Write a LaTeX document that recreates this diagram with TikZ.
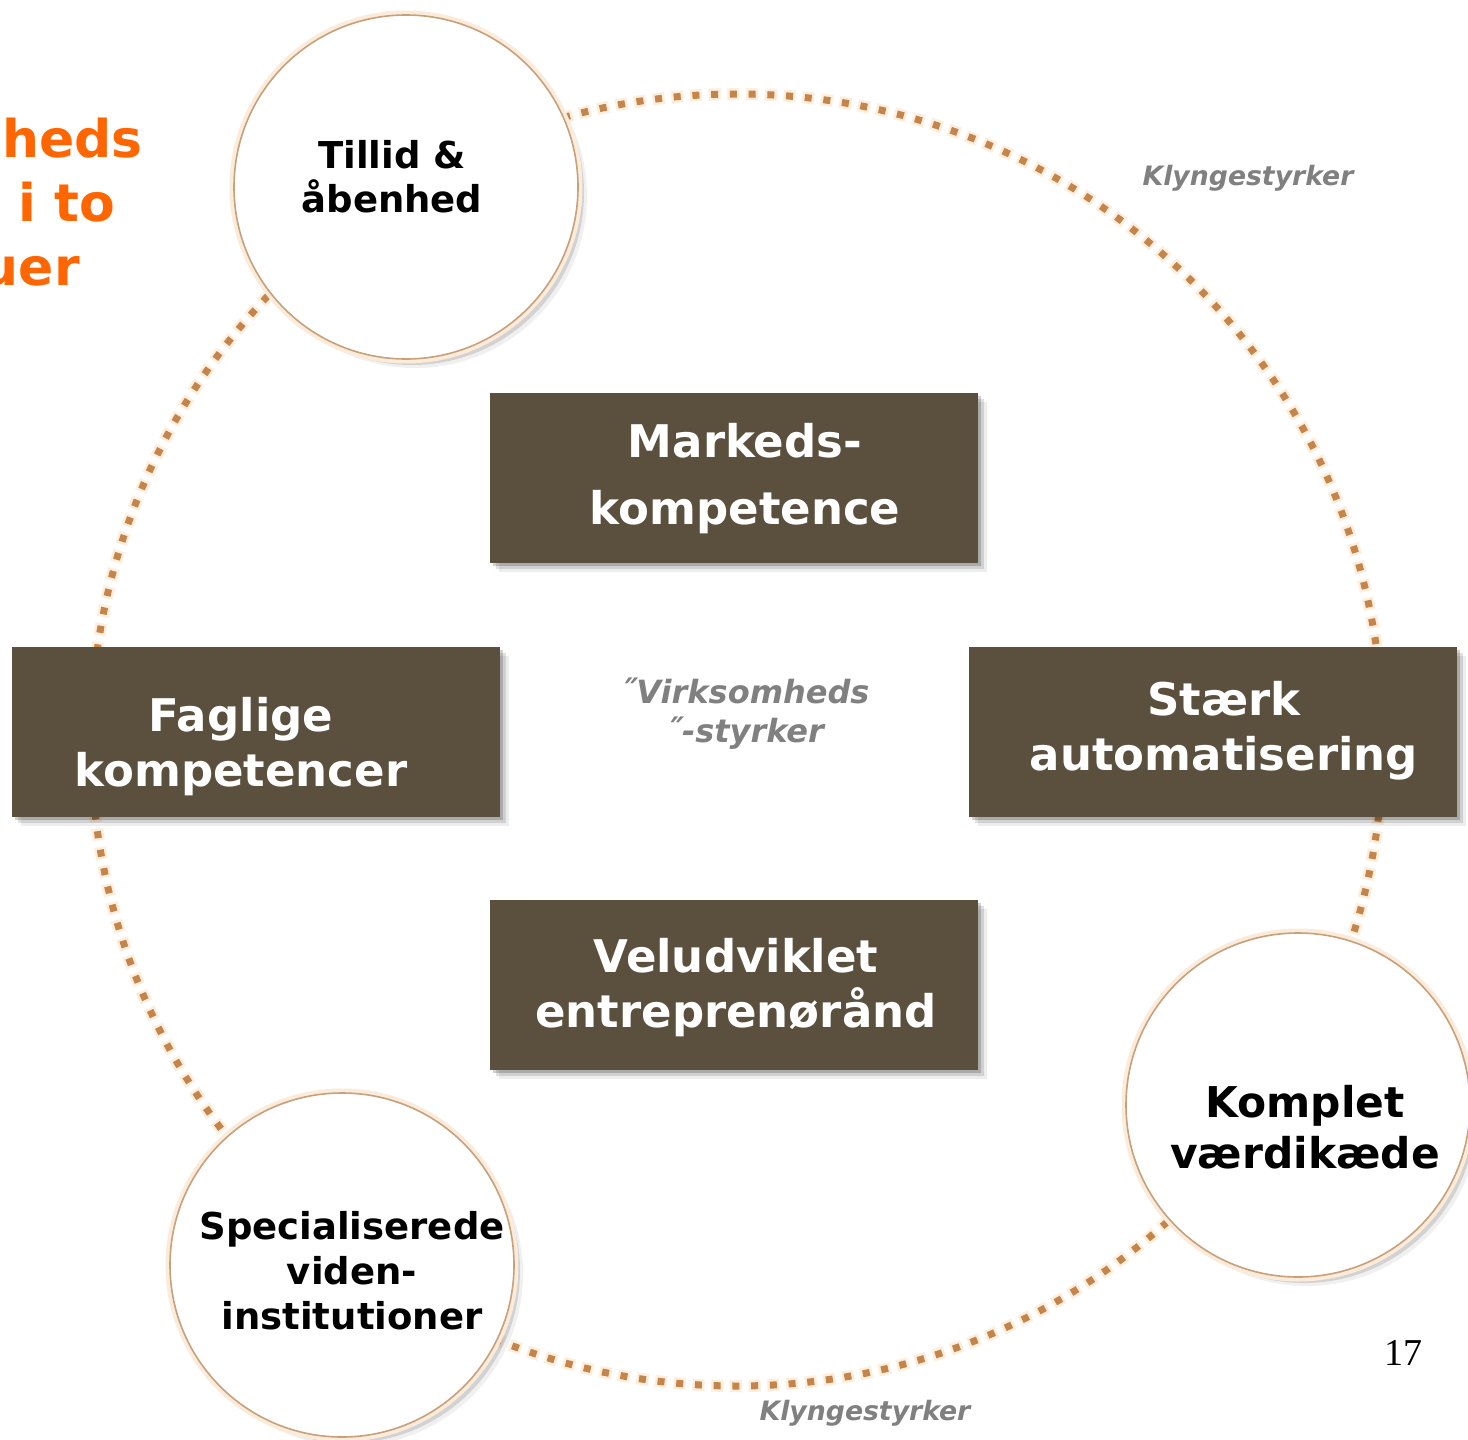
\documentclass[tikz,border=0pt]{standalone}
\usepackage{fontspec}
\setmainfont{DejaVu Sans}
\newfontfamily\numfont{Liberation Serif}
\usetikzlibrary{shadows}
\definecolor{boxbrown}{HTML}{5B503E}
\definecolor{dotbrown}{HTML}{C4844A}
\definecolor{dotglow}{HTML}{FDEEDD}
\definecolor{rimtan}{HTML}{C8A07A}
\definecolor{rimglow}{HTML}{FBEBDB}
\definecolor{greytxt}{HTML}{808080}
\definecolor{orangetxt}{HTML}{FF6600}
\begin{document}
\begin{tikzpicture}[x=1pt,y=-1pt,
  boxnode/.style={rectangle, fill=boxbrown, minimum width=488pt,
    minimum height=170pt, inner sep=0pt,
    drop shadow={shadow xshift=9pt, shadow yshift=-9pt, fill=black, opacity=0.07},
    drop shadow={shadow xshift=6pt, shadow yshift=-6pt, fill=black, opacity=0.12},
    drop shadow={shadow xshift=3pt, shadow yshift=-3pt, fill=black, opacity=0.18}},
  boxtext/.style={text=white, inner sep=0pt, align=center,
    font=\fontsize{45}{55}\selectfont\bfseries},
  ringnode/.style={circle, fill=white, draw=rimtan, line width=1.6pt,
    minimum size=344pt, inner sep=0pt,
    drop shadow={shadow xshift=9pt, shadow yshift=-9pt, fill=black, opacity=0.06},
    drop shadow={shadow xshift=6pt, shadow yshift=-6pt, fill=black, opacity=0.12},
    drop shadow={shadow xshift=3pt, shadow yshift=-3pt, fill=black, opacity=0.18},
    preaction={draw=rimglow, line width=9pt}},
  circtext/.style={align=center, text=black, inner sep=0pt},
  greylabel/.style={text=greytxt, inner sep=0pt, align=center,
    font=\fontsize{26.7}{32}\selectfont\bfseries\itshape},
  orangelabel/.style={text=orangetxt, inner sep=0pt, anchor=base east,
    font=\fontsize{52}{62}\selectfont\bfseries}
]
\useasboundingbox[fill=white] (0,0) rectangle (1468,1440);

% dotted ring
\coordinate (ringc) at (737,740);
\draw[dotglow, line width=12pt, dash pattern=on 12pt off 6.75pt, dash phase=2.5pt]
  (ringc) circle[radius=646];
\draw[dotbrown, line width=7pt, dash pattern=on 7pt off 11.75pt]
  (ringc) circle[radius=646];

% orange text cut at the left edge
\node[orangelabel] (o1) at (143,157) {heds};
\node[orangelabel] (o2) at (115,221) {i to};
\node[orangelabel] (o3) at (80,285) {uer};

% circles
\node[ringnode] (c1) at (406,187) {};
\node[circtext, font=\fontsize{37}{44}\selectfont\bfseries] (t1) at (392,177) {Tillid \&\\åbenhed};
\node[ringnode] (c2) at (1298,1105) {};
\node[circtext, font=\fontsize{42.4}{51}\selectfont\bfseries] (t2) at (1305,1127) {Komplet\\værdikæde};
\node[ringnode] (c3) at (342,1265) {};
\node[circtext, font=\fontsize{37}{45}\selectfont\bfseries] (t3) at (352,1271) {Specialiserede\\viden-\\institutioner};

% boxes
\node[boxnode] (b1) at (734,478) {};
\node[boxtext, font=\fontsize{45}{67}\selectfont\bfseries] (bt1) at (745,479) {Markeds-\\kompetence};
\node[boxnode] (b2) at (256,732) {};
\node[boxtext] (bt2) at (241,747) {Faglige\\kompetencer};
\node[boxnode] (b3) at (1213,732) {};
\node[boxtext] (bt3) at (1224,731) {Stærk\\automatisering};
\node[boxnode] (b4) at (734,985) {};
\node[boxtext] (bt4) at (736,988) {Veludviklet\\entreprenørånd};

% grey labels
\node[greylabel, font=\fontsize{32}{39}\selectfont\bfseries\itshape] (v) at (745,714) {˝Virksomheds\\˝-styrker};
\node[greylabel] (k1) at (1248,178) {Klyngestyrker};
\node[greylabel] (k2) at (865,1413) {Klyngestyrker};

% page number
\node[inner sep=0pt, font=\numfont\fontsize{38}{44}\selectfont] (pn) at (1403,1353) {17};
\end{tikzpicture}
\end{document}
